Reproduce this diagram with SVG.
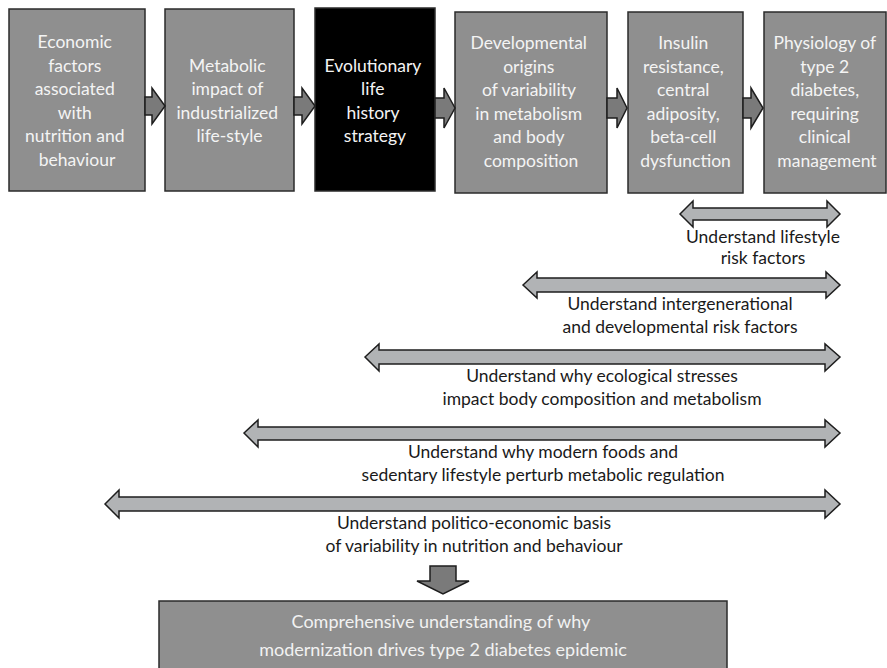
<svg xmlns="http://www.w3.org/2000/svg" width="887" height="668" viewBox="0 0 887 668">
  <style>
    .box { fill: #8f8f8f; stroke: #2b2b2b; stroke-width: 1.5; }
    .dark { fill: #000000; stroke: #2b2b2b; stroke-width: 1.5; }
    .btxt { font-family: Lato, "Liberation Sans", sans-serif; font-size: 17.5px; fill: #f4f4f4; text-anchor: middle; }
    .step { fill: #7a7a7a; stroke: #1e1e1e; stroke-width: 1.5; stroke-linejoin: miter; }
    .span { fill: #b1b3b5; stroke: #1e1e1e; stroke-width: 1.5; stroke-linejoin: miter; }
    .lbl { font-family: Lato, "Liberation Sans", sans-serif; font-size: 17.5px; fill: #1a1a1a; text-anchor: middle; }
    .big { font-family: Lato, "Liberation Sans", sans-serif; font-size: 18px; fill: #f2f2f2; text-anchor: middle; }
  </style>

  <!-- top row of stages -->
  <g id="economic">
    <rect class="box" x="9" y="9" width="136" height="182"/>
    <text class="btxt">
      <tspan x="77" y="48">Economic</tspan>
      <tspan x="77" y="71.5">factors</tspan>
      <tspan x="77" y="95">associated</tspan>
      <tspan x="77" y="118.5">with</tspan>
      <tspan x="77" y="142">nutrition and</tspan>
      <tspan x="77" y="165.5">behaviour</tspan>
    </text>
  </g>
  <g id="metabolic">
    <rect class="box" x="165" y="9" width="129" height="182"/>
    <text class="btxt">
      <tspan x="229.5" y="71.5">Metabolic</tspan>
      <tspan x="229.5" y="95">impact of</tspan>
      <tspan x="229.5" y="118.5">industrialized</tspan>
      <tspan x="229.5" y="142">life-style</tspan>
    </text>
  </g>
  <g id="evolutionary">
    <rect class="dark" x="315" y="8" width="120" height="183"/>
    <text class="btxt">
      <tspan x="375" y="71.5">Evolutionary</tspan>
      <tspan x="375" y="95">life</tspan>
      <tspan x="375" y="118.5">history</tspan>
      <tspan x="375" y="142">strategy</tspan>
    </text>
  </g>
  <g id="developmental">
    <rect class="box" x="455" y="12" width="152" height="181"/>
    <text class="btxt">
      <tspan x="531" y="49">Developmental</tspan>
      <tspan x="531" y="72.5">origins</tspan>
      <tspan x="531" y="96">of variability</tspan>
      <tspan x="531" y="119.5">in metabolism</tspan>
      <tspan x="531" y="143">and body</tspan>
      <tspan x="531" y="166.5">composition</tspan>
    </text>
  </g>
  <g id="insulin">
    <rect class="box" x="628" y="12" width="115" height="181"/>
    <text class="btxt">
      <tspan x="685.5" y="49">Insulin</tspan>
      <tspan x="685.5" y="72.5">resistance,</tspan>
      <tspan x="685.5" y="96">central</tspan>
      <tspan x="685.5" y="119.5">adiposity,</tspan>
      <tspan x="685.5" y="143">beta-cell</tspan>
      <tspan x="685.5" y="166.5">dysfunction</tspan>
    </text>
  </g>
  <g id="physiology">
    <rect class="box" x="764" y="12" width="122" height="181"/>
    <text class="btxt">
      <tspan x="827" y="49">Physiology of</tspan>
      <tspan x="827" y="72.5">type 2</tspan>
      <tspan x="827" y="96">diabetes,</tspan>
      <tspan x="827" y="119.5">requiring</tspan>
      <tspan x="827" y="143">clinical</tspan>
      <tspan x="827" y="166.5">management</tspan>
    </text>
  </g>

  <!-- outcome box -->
  <g id="outcome">
    <rect class="box" x="159" y="601" width="568" height="70"/>
    <text class="big">
      <tspan x="443" y="628">Comprehensive understanding of why</tspan>
      <tspan x="443" y="656">modernization drives type 2 diabetes epidemic</tspan>
    </text>
  </g>

  <!-- connectors -->
  <g id="connectors">
    <!-- block arrows between stages -->
    <polygon class="step" points="145,97 152,97 152,88 165,106 152,124 152,115 145,115"/>
    <polygon class="step" points="294,97 302,97 302,88 315,106 302,124 302,115 294,115"/>
    <polygon class="step" points="435,98 444,98 444,88 455,108 444,128 444,118 435,118"/>
    <polygon class="step" points="607,98 617,98 617,88 627,108 617,128 617,118 607,118"/>
    <polygon class="step" points="743,98 751,98 751,88 763,108 751,128 751,118 743,118"/>

    <!-- double-headed span arrows -->
    <polygon class="span" points="680,214 693,201 693,208 827,208 827,201 840,214 827,227 827,220 693,220 693,227"/>
    <polygon class="span" points="523,285 537,272 537,278 826,278 826,272 840,285 826,298 826,292 537,292 537,298"/>
    <polygon class="span" points="365,357 379,344 379,350 825,350 825,344 840,357 825,371 825,364 379,364 379,371"/>
    <polygon class="span" points="244,433 258,420 258,427 825,427 825,420 840,433 825,447 825,440 258,440 258,447"/>
    <polygon class="span" points="105,504 119,490 119,497 825,497 825,490 840,504 825,518 825,511 119,511 119,518"/>

    <!-- downward arrow to outcome -->
    <polygon class="step" points="430,566 456,566 456,581 469,581 443,594 417,581 430,581"/>
  </g>

  <!-- span labels -->
  <g id="labels">
    <text class="lbl"><tspan x="763" y="243">Understand lifestyle</tspan><tspan x="763" y="264">risk factors</tspan></text>
    <text class="lbl"><tspan x="680" y="310">Understand intergenerational</tspan><tspan x="680" y="333">and developmental risk factors</tspan></text>
    <text class="lbl"><tspan x="602" y="382">Understand why ecological stresses</tspan><tspan x="602" y="405">impact body composition and metabolism</tspan></text>
    <text class="lbl"><tspan x="543" y="458">Understand why modern foods and</tspan><tspan x="543" y="481">sedentary lifestyle perturb metabolic regulation</tspan></text>
    <text class="lbl"><tspan x="474" y="529">Understand politico-economic basis</tspan><tspan x="474" y="552">of variability in nutrition and behaviour</tspan></text>
  </g>
</svg>
